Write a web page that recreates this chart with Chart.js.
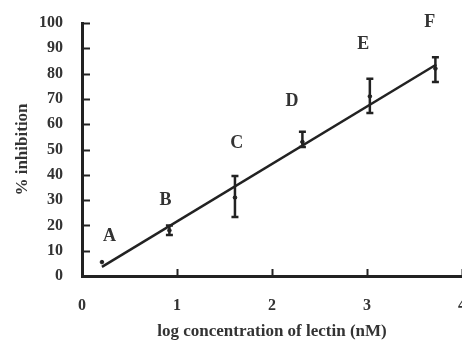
<!DOCTYPE html>
<html>
<head>
<meta charset="utf-8">
<script src="https://cdn.jsdelivr.net/npm/chart.js@4.4.0/dist/chart.umd.min.js"></script>
<style>
  html, body { margin: 0; padding: 0; background: #fff; overflow: hidden; }
  #wrap { width: 467px; height: 340px; }
</style>
</head>
<body>
<div id="wrap"><canvas id="lectinChart"></canvas></div>
<script>
// datos
const pointLabels = ['A', 'B', 'C', 'D', 'E', 'F'];
const logConc = [0.21, 0.92, 1.61, 2.32, 3.03, 3.72];
const inhibition = [5.5, 18, 31, 53, 71, 82];
const errLow = [5.5, 16.2, 23.3, 51, 64.4, 76.7];
const errHigh = [5.5, 20, 39.5, 57, 78, 86.5];
const labelX = [0.29, 0.88, 1.63, 2.21, 2.96, 3.66];
const labelY = [15.8, 30, 52.6, 69.2, 91.7, 100.4];
// recta de ajuste (extremos leidos)
const fitX = [0.21, 3.73];
const fitY = [3.6, 83.6];

const ink = '#222';
const textColor = '#333';
const serif = "'Liberation Serif', 'Times New Roman', serif";

const meanPoints = logConc.map((x, i) => ({ x: x, y: inhibition[i] }));
const fitPoints = fitX.map((x, i) => ({ x: x, y: fitY[i] }));

// barras de error, marcas internas y letras
const extrasPlugin = {
  id: 'extras',
  afterDatasetsDraw(chart) {
    const ctx = chart.ctx;
    const xs = chart.scales.x;
    const ys = chart.scales.y;
    const area = chart.chartArea;
    ctx.save();
    ctx.strokeStyle = ink;

    // ticks hacia dentro
    ctx.lineWidth = 2;
    ys.ticks.forEach(t => {
      const py = Math.round(ys.getPixelForValue(t.value)) + 0.5;
      ctx.beginPath();
      ctx.moveTo(area.left, py);
      ctx.lineTo(area.left + 8, py);
      ctx.stroke();
    });
    xs.ticks.forEach(t => {
      if (t.value === 0) return;
      const px = Math.round(xs.getPixelForValue(t.value)) + 0.5;
      ctx.beginPath();
      ctx.moveTo(px, area.bottom);
      ctx.lineTo(px, area.bottom - 7);
      ctx.stroke();
    });

    // barras de error
    ctx.lineWidth = 2.5;
    logConc.forEach((x, i) => {
      if (errHigh[i] === errLow[i]) return;
      const px = xs.getPixelForValue(x);
      const top = ys.getPixelForValue(errHigh[i]);
      const bot = ys.getPixelForValue(errLow[i]);
      ctx.beginPath();
      ctx.moveTo(px, top);
      ctx.lineTo(px, bot);
      ctx.moveTo(px - 3.5, top);
      ctx.lineTo(px + 3.5, top);
      ctx.moveTo(px - 3.5, bot);
      ctx.lineTo(px + 3.5, bot);
      ctx.stroke();
    });

    // letras
    ctx.fillStyle = textColor;
    ctx.font = 'bold 18px ' + serif;
    ctx.textAlign = 'center';
    ctx.textBaseline = 'middle';
    pointLabels.forEach((lbl, i) => {
      ctx.fillText(lbl, xs.getPixelForValue(labelX[i]), ys.getPixelForValue(labelY[i]));
    });
    ctx.restore();
  }
};

new Chart(document.getElementById('lectinChart'), {
  type: 'scatter',
  data: {
    datasets: [{
      type: 'line',
      data: fitPoints,
      borderColor: ink,
      borderWidth: 2.5,
      pointRadius: 0,
      fill: false
    }, {
      data: meanPoints,
      backgroundColor: ink,
      borderColor: ink,
      pointRadius: 1.8,
      pointHoverRadius: 1.8
    }]
  },
  options: {
    responsive: true,
    maintainAspectRatio: false,
    animation: false,
    layout: {
      padding: { left: 0, top: 23, right: 5, bottom: 0 }
    },
    plugins: {
      legend: { display: false },
      tooltip: { enabled: false }
    },
    scales: {
      x: {
        type: 'linear',
        min: 0,
        max: 4,
        afterFit: s => { s.height = 64; s.paddingLeft = 0; s.paddingRight = 0; },
        grid: { display: false, drawTicks: false },
        border: { display: true, color: ink, width: 3 },
        ticks: {
          stepSize: 1,
          padding: 20,
          color: textColor,
          font: { family: serif, size: 16, weight: 'bold' }
        },
        title: {
          display: true,
          text: 'log concentration of lectin (nM)',
          color: textColor,
          padding: 0,
          font: { family: serif, size: 17, weight: 'bold', lineHeight: 1 }
        }
      },
      y: {
        min: 0,
        max: 100,
        afterFit: s => { s.width = 82; s.paddingTop = 0; s.paddingBottom = 0; },
        grid: { display: false, drawTicks: false },
        border: { display: true, color: ink, width: 3 },
        ticks: {
          stepSize: 10,
          padding: 19,
          color: textColor,
          font: { family: serif, size: 16, weight: 'bold' }
        },
        title: {
          display: true,
          text: '% inhibition',
          color: textColor,
          padding: { top: 12, bottom: 0 },
          font: { family: serif, size: 17, weight: 'bold' }
        }
      }
    }
  },
  plugins: [extrasPlugin]
});
</script>
</body>
</html>
